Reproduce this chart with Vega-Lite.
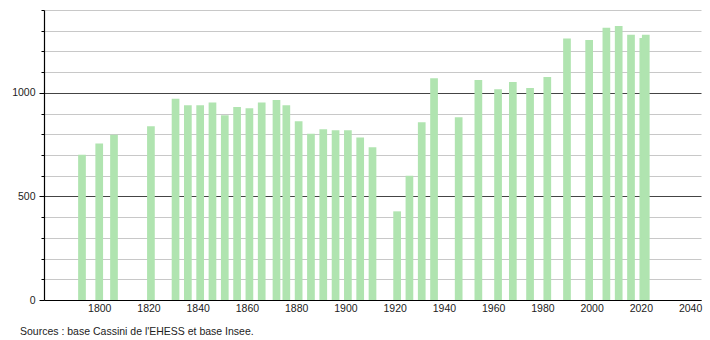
{
  "$schema": "https://vega.github.io/schema/vega-lite/v6.json",
  "width": 657,
  "height": 290,
  "autosize": {"type": "none"},
  "padding": {"left": 44, "top": 10, "right": 9, "bottom": 40},
  "background": "white",
  "config": {
    "view": {"stroke": null},
    "font": "Liberation Sans",
    "axis": {"labelFont": "Liberation Sans", "labelColor": "#222", "labelFontSize": 10.5}
  },
  "title": {
    "text": "Sources : base Cassini de l'EHESS et base Insee.",
    "orient": "bottom",
    "anchor": "start",
    "frame": "group",
    "dx": -24,
    "offset": 13,
    "fontSize": 10.5,
    "fontWeight": "normal",
    "color": "#222",
    "font": "Liberation Sans"
  },
  "data": {
    "values": [
      {"annee": 1793, "population": 701},
      {"annee": 1800, "population": 756},
      {"annee": 1806, "population": 798},
      {"annee": 1821, "population": 839},
      {"annee": 1831, "population": 971},
      {"annee": 1836, "population": 940},
      {"annee": 1841, "population": 940},
      {"annee": 1846, "population": 953},
      {"annee": 1851, "population": 892},
      {"annee": 1856, "population": 932},
      {"annee": 1861, "population": 926},
      {"annee": 1866, "population": 953},
      {"annee": 1872, "population": 965},
      {"annee": 1876, "population": 940},
      {"annee": 1881, "population": 863},
      {"annee": 1886, "population": 803},
      {"annee": 1891, "population": 824},
      {"annee": 1896, "population": 819},
      {"annee": 1901, "population": 819},
      {"annee": 1906, "population": 785},
      {"annee": 1911, "population": 737},
      {"annee": 1921, "population": 428},
      {"annee": 1926, "population": 600},
      {"annee": 1931, "population": 858},
      {"annee": 1936, "population": 1071},
      {"annee": 1946, "population": 882},
      {"annee": 1954, "population": 1062},
      {"annee": 1962, "population": 1018},
      {"annee": 1968, "population": 1052},
      {"annee": 1975, "population": 1023},
      {"annee": 1982, "population": 1076},
      {"annee": 1990, "population": 1262},
      {"annee": 1999, "population": 1255},
      {"annee": 2006, "population": 1314},
      {"annee": 2011, "population": 1323},
      {"annee": 2016, "population": 1280},
      {"annee": 2021, "population": 1265},
      {"annee": 2022, "population": 1280}
    ]
  },
  "mark": {"type": "bar", "size": 7.7, "color": "#b0e4b0"},
  "encoding": {
    "x": {
      "field": "annee",
      "type": "quantitative",
      "scale": {"domain": [1779.6, 2042.4], "nice": false, "zero": false},
      "axis": {
        "title": null,
        "values": [1800, 1820, 1840, 1860, 1880, 1900, 1920, 1940, 1960, 1980, 2000, 2020, 2040],
        "format": "d",
        "ticks": false,
        "grid": false,
        "labelPadding": 3,
        "domainColor": "#000",
        "domainWidth": 1.2,
        "labelFlush": false,
        "labelOverlap": false
      }
    },
    "y": {
      "field": "population",
      "type": "quantitative",
      "scale": {"domain": [0, 1400], "nice": false},
      "axis": {
        "title": null,
        "values": [0, 100, 200, 300, 400, 500, 600, 700, 800, 900, 1000, 1100, 1200, 1300, 1400],
        "format": "d",
        "labelExpr": "datum.value % 500 === 0 ? datum.label : ''",
        "grid": true,
        "gridColor": {"condition": {"test": "datum.value % 500 === 0", "value": "#444"}, "value": "#c8c8c8"},
        "gridWidth": 1,
        "tickColor": "#000",
        "tickSize": {"condition": {"test": "datum.value % 500 === 0", "value": 5}, "value": 3},
        "labelPadding": 4,
        "domainColor": "#000",
        "domainWidth": 1.2,
        "labelFlush": false,
        "labelOverlap": false
      }
    }
  }
}
